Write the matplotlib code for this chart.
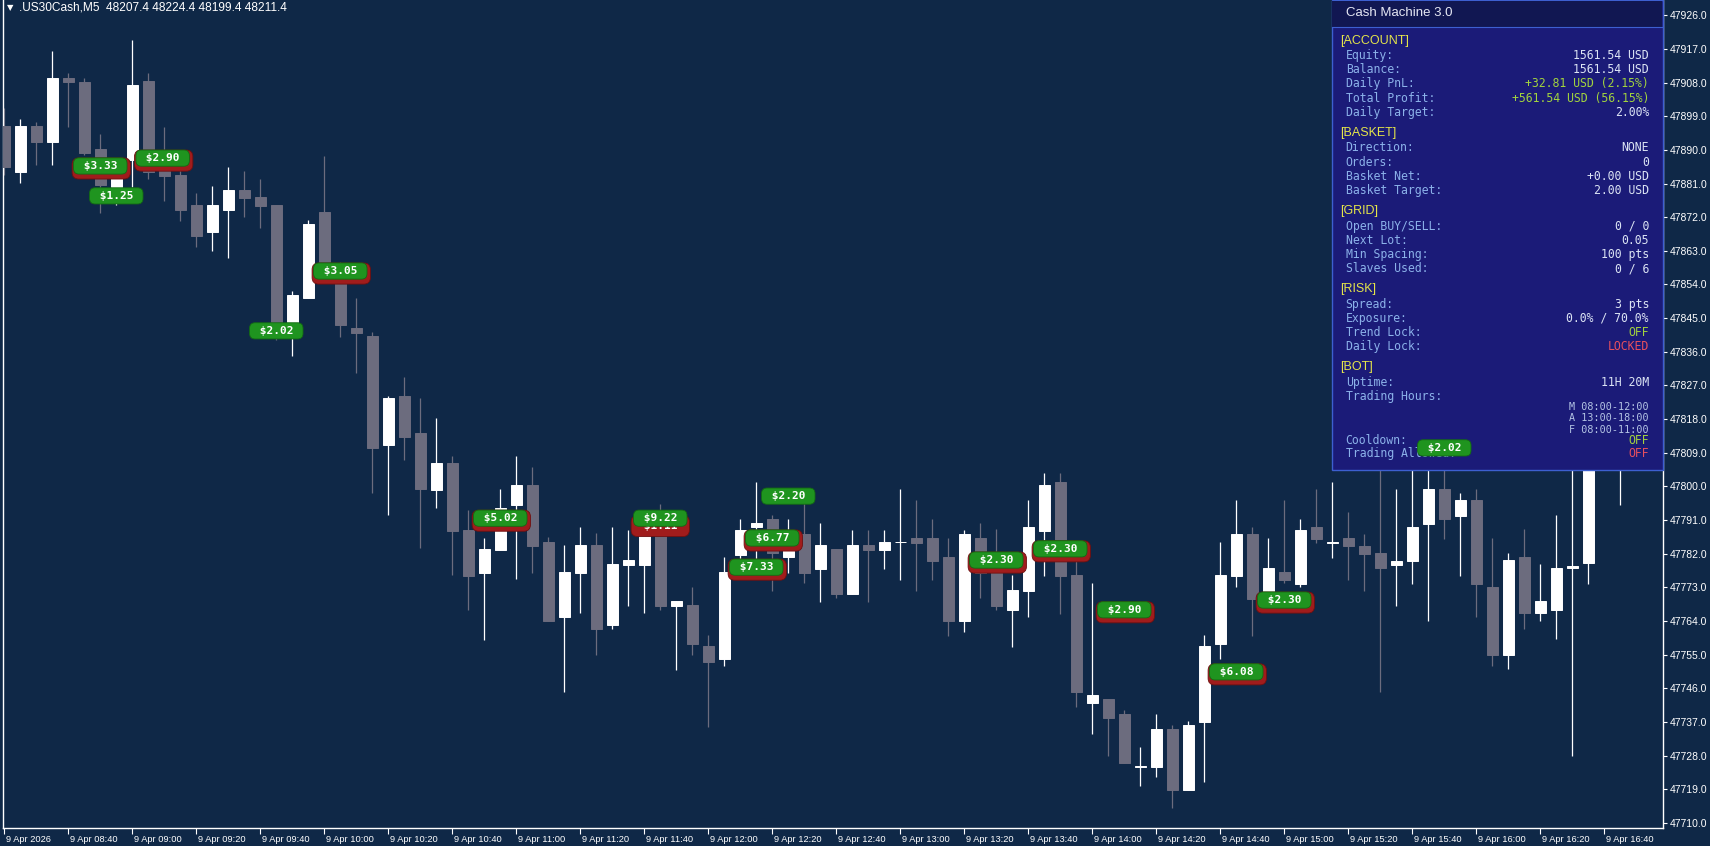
import numpy as np
import matplotlib.pyplot as plt
from matplotlib import transforms
from matplotlib.patches import Rectangle

plt.rcParams['font.family'] = ['Liberation Sans', 'DejaVu Sans']

# .US30Cash M5 bars, first bar 9 Apr 08:20
opens = [47896.4, 47884.2, 47896.4, 47892.2, 47909.2, 47908.2, 47890.2, 47880.1, 47887.3, 47908.4,
         47885.7, 47883.3, 47875.3, 47868.1, 47873.9, 47879.3, 47877.5, 47875.3, 47844.0, 47850.3,
         47873.3, 47857.9, 47842.3, 47840.2, 47811.1, 47824.2, 47814.4, 47799.0, 47806.3, 47788.3,
         47776.9, 47783.0, 47795.0, 47800.4, 47785.2, 47765.2, 47776.9, 47784.3, 47762.9, 47779.0,
         47779.0, 47788.3, 47768.1, 47768.3, 47757.3, 47753.8, 47781.7, 47789.1, 47791.3, 47781.1,
         47787.3, 47777.9, 47783.2, 47771.1, 47784.3, 47783.0, 47785.0, 47786.3, 47786.3, 47781.2,
         47764.0, 47786.3, 47777.2, 47767.0, 47772.0, 47788.2, 47801.3, 47776.3, 47742.0, 47743.1,
         47739.1, 47725.0, 47725.0, 47735.1, 47718.8, 47737.1, 47757.9, 47776.0, 47787.3, 47771.8,
         47777.0, 47773.9, 47789.1, 47784.9, 47786.1, 47784.1, 47782.1, 47779.0, 47780.1, 47790.0,
         47799.2, 47792.1, 47796.4, 47773.0, 47754.9, 47781.2, 47766.1, 47767.0, 47778.1, 47779.6,
         47815.1, 47809.7]
highs = [47901.2, 47898.2, 47897.5, 47916.5, 47910.5, 47909.2, 47894.3, 47887.8, 47919.4, 47910.5,
         47896.2, 47885.5, 47878.4, 47880.4, 47885.5, 47884.4, 47882.2, 47875.3, 47852.3, 47871.3,
         47888.4, 47860.0, 47850.3, 47841.4, 47824.2, 47829.3, 47823.6, 47818.2, 47808.1, 47793.7,
         47786.1, 47799.3, 47808.1, 47805.3, 47786.4, 47784.3, 47789.1, 47787.5, 47789.1, 47788.3,
         47791.0, 47795.3, 47769.4, 47773.2, 47760.3, 47781.2, 47791.3, 47801.3, 47792.4, 47791.3,
         47796.4, 47790.1, 47783.3, 47788.3, 47788.3, 47788.3, 47799.3, 47796.4, 47791.3, 47786.3,
         47788.3, 47790.1, 47788.5, 47776.3, 47796.4, 47803.5, 47803.5, 47780.3, 47774.1, 47743.1,
         47740.2, 47730.2, 47739.1, 47736.2, 47737.3, 47760.3, 47785.1, 47796.4, 47789.2, 47786.1,
         47796.4, 47791.2, 47799.2, 47801.1, 47793.1, 47787.3, 47808.4, 47799.2, 47807.1, 47812.4,
         47809.7, 47798.3, 47799.2, 47786.1, 47782.1, 47788.5, 47779.3, 47792.4, 47812.4, 47823.1,
         47828.5, 47825.8]
lows = [47883.3, 47881.2, 47886.0, 47886.0, 47896.2, 47888.6, 47873.1, 47875.3, 47880.2, 47882.1,
        47876.2, 47871.1, 47864.1, 47863.0, 47861.0, 47872.0, 47869.2, 47839.2, 47835.0, 47850.3,
        47856.5, 47840.0, 47830.3, 47798.2, 47792.4, 47807.1, 47783.5, 47794.2, 47776.3, 47767.0,
        47758.9, 47783.0, 47775.2, 47776.9, 47764.1, 47745.1, 47766.1, 47754.9, 47761.9, 47768.1,
        47766.1, 47767.0, 47750.9, 47754.9, 47735.7, 47752.0, 47780.3, 47775.2, 47772.1, 47776.9,
        47774.1, 47769.2, 47770.1, 47771.1, 47769.2, 47777.9, 47775.0, 47772.1, 47775.0, 47760.0,
        47761.1, 47770.1, 47767.0, 47757.1, 47765.2, 47776.1, 47765.9, 47741.1, 47733.8, 47727.9,
        47726.1, 47720.0, 47722.2, 47714.1, 47718.8, 47720.9, 47753.8, 47773.0, 47760.0, 47770.2,
        47774.1, 47773.0, 47784.8, 47780.9, 47775.0, 47772.0, 47745.1, 47768.1, 47773.9, 47764.1,
        47785.9, 47776.1, 47765.2, 47752.0, 47751.1, 47761.9, 47764.1, 47759.1, 47727.9, 47773.9,
        47807.1, 47795.0]
closes = [47885.4, 47896.4, 47892.2, 47909.2, 47908.2, 47889.3, 47880.6, 47886.5, 47907.4, 47884.2,
          47883.1, 47873.9, 47867.0, 47875.3, 47879.3, 47877.2, 47875.1, 47843.6, 47851.2, 47870.1,
          47857.9, 47843.2, 47841.1, 47810.2, 47823.6, 47813.1, 47799.2, 47806.3, 47788.2, 47776.1,
          47783.3, 47794.2, 47800.4, 47784.1, 47764.1, 47777.0, 47784.3, 47761.9, 47779.3, 47780.3,
          47788.3, 47768.1, 47769.4, 47757.9, 47753.1, 47777.0, 47788.3, 47790.2, 47782.2, 47787.0,
          47776.9, 47784.3, 47771.1, 47784.3, 47783.0, 47785.2, 47785.1, 47784.9, 47780.1, 47764.0,
          47787.3, 47776.9, 47768.1, 47772.3, 47789.1, 47800.4, 47776.1, 47745.1, 47744.2, 47738.1,
          47726.1, 47725.1, 47735.1, 47718.8, 47736.2, 47757.3, 47776.3, 47787.3, 47769.9, 47778.1,
          47775.0, 47788.3, 47785.9, 47785.0, 47784.1, 47781.9, 47778.1, 47780.1, 47789.1, 47799.2,
          47791.2, 47796.4, 47773.9, 47754.9, 47780.3, 47766.1, 47769.4, 47778.3, 47778.8, 47815.1,
          47820.4, 47817.8]

time_ticks = [0, 4, 8, 12, 16, 20, 24, 28, 32, 36, 40, 44, 48, 52, 56, 60, 64, 68, 72, 76, 80,
              84, 88, 92, 96, 100]
time_labels = ['9 Apr 2026', '9 Apr 08:40', '9 Apr 09:00', '9 Apr 09:20', '9 Apr 09:40',
               '9 Apr 10:00', '9 Apr 10:20', '9 Apr 10:40', '9 Apr 11:00', '9 Apr 11:20',
               '9 Apr 11:40', '9 Apr 12:00', '9 Apr 12:20', '9 Apr 12:40', '9 Apr 13:00',
               '9 Apr 13:20', '9 Apr 13:40', '9 Apr 14:00', '9 Apr 14:20', '9 Apr 14:40',
               '9 Apr 15:00', '9 Apr 15:20', '9 Apr 15:40', '9 Apr 16:00', '9 Apr 16:20',
               '9 Apr 16:40']
price_ticks = [47926.0, 47917.0, 47908.0, 47899.0, 47890.0, 47881.0, 47872.0, 47863.0, 47854.0,
               47845.0, 47836.0, 47827.0, 47818.0, 47809.0, 47800.0, 47791.0, 47782.0, 47773.0,
               47764.0, 47755.0, 47746.0, 47737.0, 47728.0, 47719.0, 47710.0]

# closed trade profit tags (bar, price, text, style)
tag_bar = [6, 7, 9.9, 17, 21, 31, 41, 41, 49, 48, 47, 62, 66, 70, 77, 80, 90]
tag_price = [47885.7, 47877.7, 47887.8, 47841.6, 47857.6, 47791.5, 47789.4, 47791.5, 47797.4,
             47786.2, 47778.4, 47780.3, 47783.3, 47767.0, 47750.4, 47769.6, 47810.3]
tag_text = ['$3.33', '$1.25', '$2.90', '$2.02', '$3.05', '$5.02', '$1.11', '$9.22', '$2.20',
            '$6.77', '$7.33', '$2.30', '$2.30', '$2.90', '$6.08', '$2.30', '$2.02']
tag_kind = ['rg', 'g', 'rg', 'g', 'rg', 'rg', 'r', 'g', 'g', 'rg', 'rg', 'rg', 'rg', 'rg', 'rg',
            'rg', 'g']

header = '.US30Cash,M5  48207.4 48224.4 48199.4 48211.4'

panel_title = 'Cash Machine 3.0'
panel_sections = ['[ACCOUNT]', '[BASKET]', '[GRID]', '[RISK]', '[BOT]']
panel_rows = [
    [('Equity:', '1561.54 USD', 'w'), ('Balance:', '1561.54 USD', 'w'),
     ('Daily PnL:', '+32.81 USD (2.15%)', 'g'), ('Total Profit:', '+561.54 USD (56.15%)', 'g'),
     ('Daily Target:', '2.00%', 'w')],
    [('Direction:', 'NONE', 'w'), ('Orders:', '0', 'w'), ('Basket Net:', '+0.00 USD', 'w'),
     ('Basket Target:', '2.00 USD', 'w')],
    [('Open BUY/SELL:', '0 / 0', 'w'), ('Next Lot:', '0.05', 'w'),
     ('Min Spacing:', '100 pts', 'w'), ('Slaves Used:', '0 / 6', 'w')],
    [('Spread:', '3 pts', 'w'), ('Exposure:', '0.0% / 70.0%', 'w'), ('Trend Lock:', 'OFF', 'g'),
     ('Daily Lock:', 'LOCKED', 'r')],
    [('Uptime:', '11H 20M', 'w'), ('Trading Hours:', '', 'w')],
]
trading_hours = ['M 08:00-12:00', 'A 13:00-18:00', 'F 08:00-11:00']
bot_tail = [('Cooldown:', 'OFF', 'g'), ('Trading Allowed:', 'OFF', 'r')]

bg = '#0f2847'
bull = '#ffffff'
bear = '#6c6c7e'
value_colors = {'w': '#dce4f4', 'g': '#a2d43e', 'r': '#e8505e'}

W, H = 1710, 846
fig = plt.figure(figsize=(W / 100, H / 100), dpi=100, facecolor=bg)
ax = fig.add_axes([3 / W, 18 / H, 1660 / W, 828 / H], zorder=1)
ax.set_facecolor(bg)

o = np.array(opens)
h = np.array(highs)
l = np.array(lows)
c = np.array(closes)
idx = np.arange(len(o))
cols = np.where(c >= o, bull, bear)

ax.vlines(idx, l, h, colors=cols, lw=0.9, zorder=2)
ax.bar(idx, c - o, bottom=o, width=0.69, color=cols, edgecolor=cols, linewidth=0.7, zorder=3)

ax.set_xlim(-0.08, 103.67)
ax.set_ylim(47708.64, 47930.09)

for side in ['left', 'bottom', 'right']:
    ax.spines[side].set_color('white')
    ax.spines[side].set_linewidth(1)
ax.spines['top'].set_visible(False)

ax.yaxis.tick_right()
ax.set_yticks(price_ticks)
ax.set_yticklabels([f'{v:.1f}' for v in price_ticks])
ax.tick_params(axis='y', direction='out', length=3, width=0.8, colors='white',
               labelsize=7.5, pad=2)

ax.set_xticks(time_ticks)
ax.set_xticklabels(time_labels, ha='left')
ax.tick_params(axis='x', direction='out', length=4, width=0.8, colors='white',
               labelsize=6.7, pad=1)
shift = transforms.ScaledTranslation(2 / 100, 0, fig.dpi_scale_trans)
for lbl in ax.get_xticklabels():
    lbl.set_transform(lbl.get_transform() + shift)

# header line
fig.text(10 / W, 1 - 8 / H, '\u25bc', color='white', fontsize=6, ha='center', va='center',
         family='DejaVu Sans')
fig.text(19 / W, 1 - 8 / H, header, color='white', fontsize=8.6, ha='left', va='center')

# info panel
pax = fig.add_axes([1331 / W, 1 - 471 / H, 332 / W, 471 / H], zorder=2)
pax.set_xlim(1331, 1663)
pax.set_ylim(471, 0)
pax.axis('off')
pax.add_patch(Rectangle((1331.5, 0.5), 331, 470, fc='#1b1b78', ec='#3d5fd0', lw=1,
                        clip_on=False))
pax.add_patch(Rectangle((1332, 1), 330, 26, fc='#111752', ec='none'))
pax.plot([1332, 1662], [27, 27], color='#3d5fd0', lw=0.8)
pax.text(1345.7, 13, panel_title, color='#e6e8f4', fontsize=9.5, va='center')

mono = 'DejaVu Sans Mono'
label_col = '#8cb2ea'
y = 40.7
for sec, rows in zip(panel_sections, panel_rows):
    pax.text(1340, y, sec, color='#e4e44a', fontsize=9, va='center')
    y += 15
    for name, val, key in rows:
        pax.text(1345.7, y, name, color=label_col, fontsize=8.3, va='center', family=mono)
        pax.text(1649, y, val, color=value_colors[key], fontsize=8.3, va='center',
                 ha='right', family=mono)
        y += 14.15
    y += 6.5
y = 396.4 + 10.8
for line in trading_hours:
    pax.text(1649, y, line, color='#b4c4e4', fontsize=7.3, va='center', ha='right', family=mono)
    y += 11.2
y = 440.3
for name, val, key in bot_tail:
    pax.text(1345.7, y, name, color=label_col, fontsize=8.3, va='center', family=mono)
    pax.text(1649, y, val, color=value_colors[key], fontsize=8.3, va='center', ha='right',
             family=mono)
    y += 13.4

# profit tags on top of everything
tax = fig.add_axes(ax.get_position(), zorder=3)
tax.set_xlim(ax.get_xlim())
tax.set_ylim(ax.get_ylim())
tax.axis('off')
red_off = transforms.offset_copy(tax.transData, fig=fig, x=1, y=-2.5, units='dots')
for bx, py, s, kind in zip(tag_bar, tag_price, tag_text, tag_kind):
    if 'r' in kind:
        tr = red_off if 'g' in kind else tax.transData
        tax.text(bx, py, f' {s} ', transform=tr, ha='center', va='center', color='white',
                 fontsize=8, fontweight='bold', family=mono,
                 bbox=dict(boxstyle='round,pad=0.5,rounding_size=0.6', fc='#a01c1c',
                           ec='#6e1010', lw=0.6))
    if 'g' in kind:
        tax.text(bx, py, f' {s} ', ha='center', va='center', color='white',
                 fontsize=8, fontweight='bold', family=mono,
                 bbox=dict(boxstyle='round,pad=0.28,rounding_size=0.5', fc='#1f941f',
                           ec='#136a13', lw=0.6))

fig.savefig('out.png', dpi=100, facecolor=bg)
